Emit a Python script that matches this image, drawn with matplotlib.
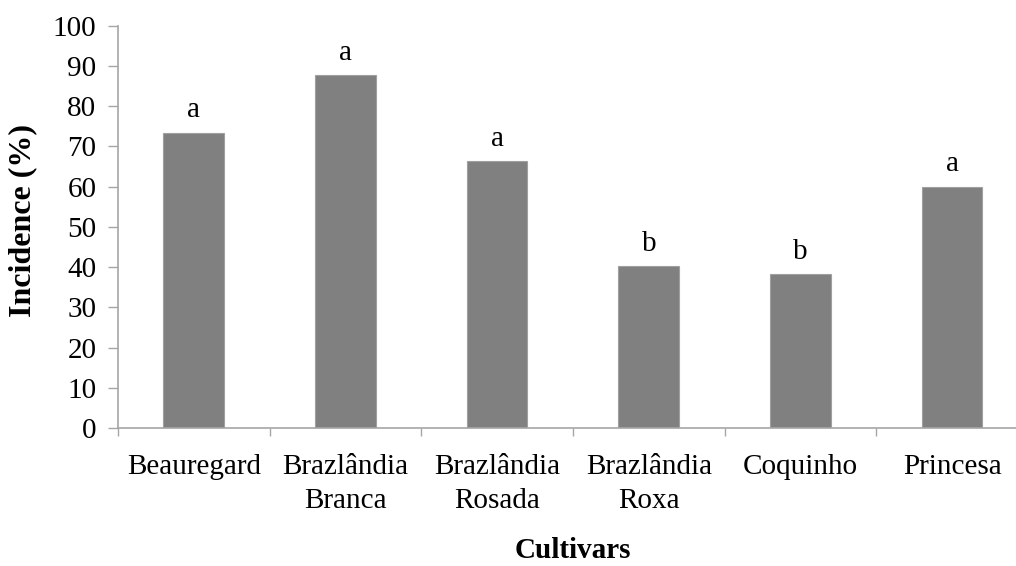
import numpy as np
import matplotlib
matplotlib.use("Agg")
import matplotlib.pyplot as plt

# Data
cultivars = ["Beauregard", "Brazlândia\nBranca", "Brazlândia\nRosada",
             "Brazlândia\nRoxa", "Coquinho", "Princesa"]
incidence = [73.4, 87.7, 66.4, 40.2, 38.2, 60.0]
letters = ["a", "a", "a", "b", "b", "a"]
yticks = [0, 10, 20, 30, 40, 50, 60, 70, 80, 90, 100]

plt.rcParams['font.family'] = ['Liberation Serif', 'DejaVu Serif']
fs = 21
axis_grey = '#A6A6A6'

fig = plt.figure(figsize=(10.16, 5.66), dpi=100)
# axis runs a little past the right edge, like the cropped original
ax = fig.add_axes([0.1161, 0.2438, 0.8957, 0.7108])

x = np.arange(len(cultivars))
bars = ax.bar(x, incidence, width=0.4, color='#808080',
              edgecolor='#A0A0A0', linewidth=0.8, zorder=2)

# significance letters above bars
for xi, val, lab in zip(x, incidence, letters):
    ax.annotate(lab, (xi, val), xytext=(0, 11), textcoords='offset points',
                ha='center', va='baseline', fontsize=fs)

ax.set_xlim(-0.5, len(cultivars) - 0.5)
ax.set_ylim(0, 100)
ax.set_yticks(yticks)
ax.tick_params(axis='y', labelsize=fs, length=7.5, width=1, color=axis_grey,
               direction='out', pad=8)

# ticks at category boundaries, labels at centres
ax.set_xticks(np.arange(len(cultivars) + 1) - 0.5)
ax.set_xticklabels([])
ax.set_xticks(x, minor=True)
ax.set_xticklabels(cultivars, minor=True, fontsize=fs, linespacing=1.4)
ax.tick_params(axis='x', which='major', length=6, width=1, color=axis_grey)
ax.tick_params(axis='x', which='minor', length=0, pad=19)

for side in ['top', 'right']:
    ax.spines[side].set_visible(False)
for side in ['left', 'bottom']:
    ax.spines[side].set_color(axis_grey)
    ax.spines[side].set_linewidth(1.2)

ax.set_ylabel('Incidence (%)', fontsize=23, fontweight='bold')
ax.yaxis.set_label_coords(-0.089, 0.515)
ax.set_xlabel('Cultivars', fontsize=fs, fontweight='bold')
ax.xaxis.set_label_coords(0.5, -0.27)

fig.savefig('out.png', dpi=100)
